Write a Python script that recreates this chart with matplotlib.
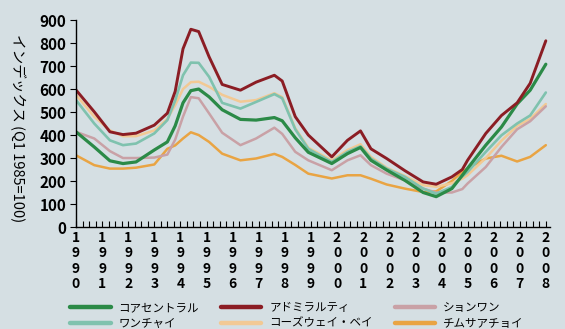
import numpy as np
import matplotlib.pyplot as plt
from matplotlib.ticker import MultipleLocator

plt.rcParams['font.family'] = ['Liberation Sans Narrow', 'Noto Sans CJK JP', 'DejaVu Sans']

years = [1990.0, 1990.7, 1991.3, 1991.8, 1992.3, 1993.0, 1993.5, 1993.8, 1994.1, 1994.4,
         1994.7, 1995.1, 1995.6, 1996.3, 1996.9, 1997.6, 1997.9, 1998.4, 1998.9, 1999.8,
         2000.4, 2000.9, 2001.3, 2001.9, 2002.6, 2003.3, 2003.8, 2004.4, 2004.8, 2005.0,
         2005.7, 2006.3, 2006.9, 2007.4, 2008.0]

core_central = [414, 348, 288, 276, 283, 335, 370, 440, 540, 593,
                600, 566, 510, 468, 465, 476, 462, 388, 325, 276,
                319, 346, 290, 248, 203, 150, 132, 167, 225, 255,
                356, 435, 535, 595, 708]
admiralty = [596, 501, 414, 402, 408, 443, 495, 590, 775, 860,
             850, 740, 620, 595, 630, 660, 635, 480, 400, 305,
             377, 418, 340, 298, 245, 196, 186, 218, 250, 290,
             407, 485, 540, 625, 810]
sheung_wan = [414, 385, 330, 300, 300, 302, 315, 380, 480, 565,
              560, 494, 410, 356, 385, 432, 405, 327, 290, 247,
              290, 312, 269, 232, 203, 167, 150, 150, 165, 189,
              261, 348, 425, 460, 525]
wan_chai = [552, 450, 377, 356, 363, 407, 465, 550, 660, 715,
            714, 653, 540, 515, 544, 578, 560, 425, 340, 283,
            327, 351, 298, 254, 218, 167, 145, 174, 220, 239,
            327, 399, 450, 485, 585]
causeway_bay = [575, 480, 420, 395, 395, 420, 470, 530, 600, 630,
                632, 610, 575, 545, 552, 582, 565, 430, 345, 290,
                335, 360, 305, 258, 222, 182, 175, 190, 210, 225,
                300, 375, 440, 470, 535]
tsim_sha_tsui = [312, 269, 254, 254, 258, 272, 340, 355, 385, 412,
                 400, 370, 319, 290, 298, 318, 305, 270, 232, 211,
                 225, 225, 210, 185, 167, 152, 155, 200, 240, 255,
                 298, 310, 285, 305, 356]

bg = '#d5dfe3'
fig = plt.figure(figsize=(5.65, 3.29), dpi=100, facecolor=bg)
ax = fig.add_axes([0.1345, 0.31, 0.8385, 0.629])
ax.set_facecolor(bg)

style = dict(solid_joinstyle='round', solid_capstyle='round')
l_tst, = ax.plot(years, tsim_sha_tsui, color='#e9a443', lw=1.8, label='チムサアチョイ', **style)
l_cb, = ax.plot(years, causeway_bay, color='#f2c994', lw=1.8, label='コーズウェイ・ベイ', **style)
l_sw, = ax.plot(years, sheung_wan, color='#c9a1a6', lw=1.8, label='ションワン', **style)
l_wc, = ax.plot(years, wan_chai, color='#7fc2ae', lw=1.9, label='ワンチャイ', **style)
l_cc, = ax.plot(years, core_central, color='#2b8a47', lw=2.3, label='コアセントラル', **style)
l_ad, = ax.plot(years, admiralty, color='#8b1d24', lw=2.1, label='アドミラルティ', **style)

ax.set_xlim(1990, 2008.15)
ax.set_ylim(0, 900)
ax.set_yticks(range(0, 901, 100))
ax.set_xticks(range(1990, 2009))
ax.set_xticklabels(['\n'.join(str(y)) for y in range(1990, 2009)],
                   fontsize=10, linespacing=1.12, fontweight='bold')
ax.xaxis.set_minor_locator(MultipleLocator(0.25))
ax.tick_params(axis='x', which='both', direction='in', length=4, width=0.8, pad=3)
ax.tick_params(axis='y', direction='out', length=4, width=0.8, labelsize=11, pad=3)
for lab in ax.get_yticklabels():
    lab.set_fontweight('bold')

ax.spines['top'].set_visible(False)
ax.spines['right'].set_visible(False)
ax.spines['left'].set_linewidth(1.0)
ax.spines['bottom'].set_linewidth(1.0)

fig.text(0.032, 0.61, 'インデックス (Q1 1985=100)', rotation=-90, ha='center', va='center',
         fontsize=10.5, family=['Noto Sans CJK JP', 'DejaVu Sans'])

handles = [l_cc, l_wc, l_ad, l_cb, l_sw, l_tst]
leg = fig.legend(handles=handles, labels=[h.get_label() for h in handles], ncol=3,
                 loc='upper left', bbox_to_anchor=(0.11, 0.11), frameon=False,
                 handlelength=3.5, handletextpad=0.7, columnspacing=1.9,
                 labelspacing=0.25, borderpad=0.2,
                 prop={'family': ['Noto Sans CJK JP', 'DejaVu Sans'], 'size': 8.3})
for h in leg.get_lines():
    h.set_linewidth(3.2)

fig.savefig('out.png', dpi=100, facecolor=bg)
